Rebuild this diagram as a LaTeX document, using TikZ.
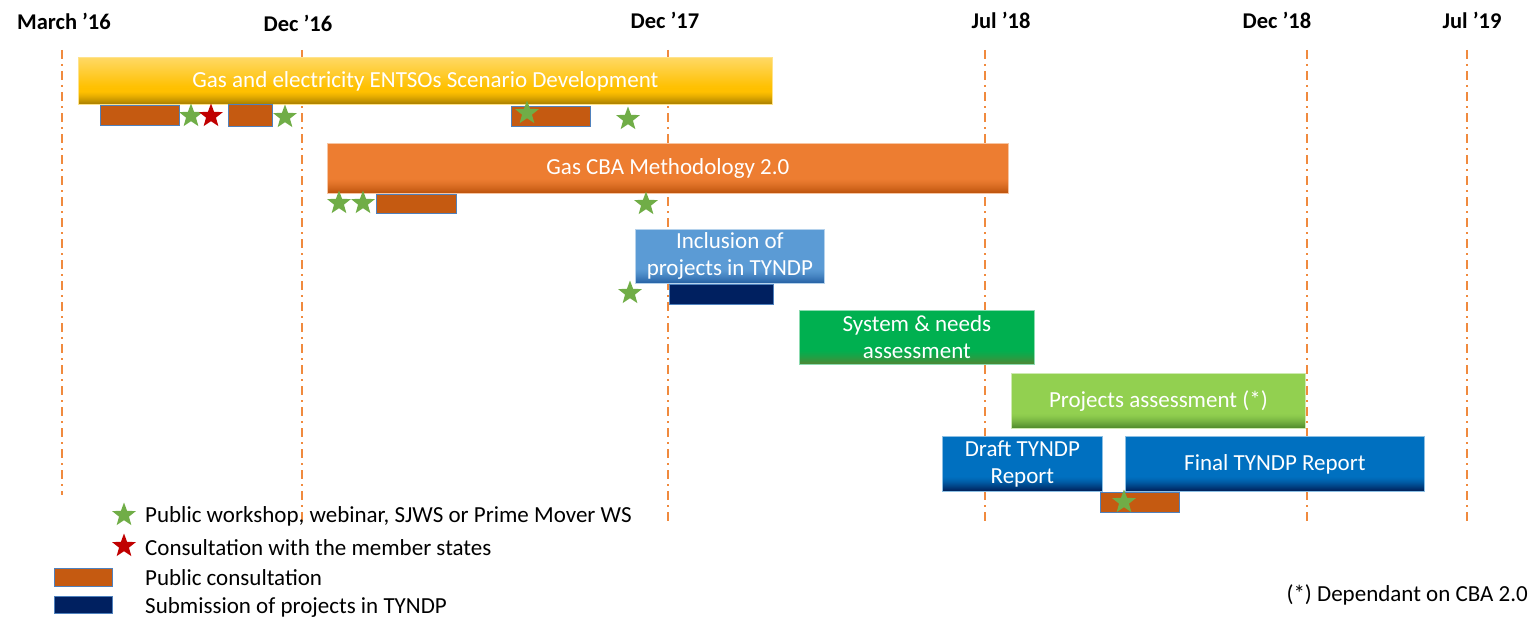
\documentclass[tikz,border=0pt]{standalone}
\usepackage{fontspec}
\setmainfont{Carlito}
\usetikzlibrary{shapes.geometric,calc}
\definecolor{dashorange}{HTML}{F08A3E}
\definecolor{ybar}{HTML}{FFC000}\definecolor{ybarL}{HTML}{FFD966}\definecolor{ybarD}{HTML}{B08400}
\definecolor{obar}{HTML}{ED7D31}\definecolor{obarD}{HTML}{C0560F}
\definecolor{lbbar}{HTML}{5B9BD5}\definecolor{lbbarD}{HTML}{2A66A8}
\definecolor{gbar}{HTML}{00B050}\definecolor{gbarD}{HTML}{4A8A36}
\definecolor{lgbar}{HTML}{92D050}\definecolor{lgbarD}{HTML}{54902E}
\definecolor{bbar}{HTML}{0070C0}\definecolor{bbarD}{HTML}{002660}
\definecolor{cons}{HTML}{C55A11}\definecolor{consedge}{HTML}{4F81BD}
\definecolor{navy}{HTML}{002060}
\definecolor{gstar}{HTML}{70AD47}\definecolor{rstar}{HTML}{C00000}
\tikzset{
  vline/.style={dashorange, line width=2pt, dash pattern=on 9pt off 5pt on 2pt off 5pt},
  hdr/.style={font=\fontsize{22.5}{26}\selectfont\bfseries, text=black, inner sep=0pt},
  bar/.style 2 args={anchor=north west, inner sep=0pt, text=white, align=center,
     font=\fontsize{23}{27}\selectfont, fill=#1, draw=#1!45!white, line width=0.8pt,
     path picture={
       \foreach \k in {0,...,13}{
         \pgfmathsetmacro\p{100*(1-\k/14)^1.4}
         \pgfmathsetmacro\kk{\k+1.6}
         \fill[#2!\p!#1] ([yshift=\k pt]path picture bounding box.south west) rectangle ([yshift=\kk pt]path picture bounding box.south east);}
     }},
  ybarbox/.style={anchor=north west, inner sep=0pt, fill=ybar, draw=ybar!45!white, line width=0.8pt,
     path picture={
       \foreach \k in {0,...,29}{
         \pgfmathsetmacro\p{100*(1-\k/30)}
         \pgfmathsetmacro\kk{\k+1.6}
         \fill[ybarL!\p!ybar] ([yshift=-\k pt]path picture bounding box.north west) rectangle ([yshift=-\kk pt]path picture bounding box.north east);}
       \foreach \k in {0,...,11}{
         \pgfmathsetmacro\p{100*(1-\k/12)^1.3}
         \pgfmathsetmacro\kk{\k+1.6}
         \fill[ybarD!\p!ybar] ([yshift=\k pt]path picture bounding box.south west) rectangle ([yshift=\kk pt]path picture bounding box.south east);}
     }},
  consbox/.style={anchor=north west, fill=cons, draw=consedge, line width=1pt, inner sep=0pt},
  subbox/.style={anchor=north west, fill=navy, draw=consedge, line width=1pt, inner sep=0pt},
  gst/.style={star, star points=5, star point ratio=2.4, fill=gstar, minimum size=25pt, inner sep=0pt},
  rst/.style={star, star points=5, star point ratio=2.4, fill=rstar, minimum size=25pt, inner sep=0pt},
  leg/.style={anchor=west, font=\fontsize{23}{27}\selectfont, inner sep=0pt, text=black}
}
\begin{document}
\begin{tikzpicture}[x=1pt,y=-1pt]
\useasboundingbox (0,0) rectangle (1537,618);
% headers
\node[hdr] (h1) at (64,21) {March ’16};
\node[hdr] (h2) at (298,23) {Dec ’16};
\node[hdr] (h3) at (665,20) {Dec ’17};
\node[hdr] (h4) at (1001,20) {Jul ’18};
\node[hdr] (h5) at (1277,20) {Dec ’18};
\node[hdr] (h6) at (1472,20) {Jul ’19};
% vertical lines
\coordinate (v1t) at (62,50); \coordinate (v1b) at (62,495);
\coordinate (v2t) at (302,50); \coordinate (v2b) at (302,525);
\coordinate (v3t) at (668,50); \coordinate (v3b) at (668,525);
\coordinate (v4t) at (985,50); \coordinate (v4b) at (985,525);
\coordinate (v5t) at (1307,50); \coordinate (v5b) at (1307,525);
\coordinate (v6t) at (1467,50); \coordinate (v6b) at (1467,525);
\foreach \i in {1,...,6} {\draw[vline] (v\i t) -- (v\i b);}
% bar 1
\node[ybarbox, minimum width=694pt, minimum height=47pt] (b1) at (78,57) {};
\node[text=white, font=\fontsize{23}{27}\selectfont, inner sep=0pt] (b1t) at (b1.center) {Gas and electricity ENTSOs Scenario Development};
\node[consbox, minimum width=79pt, minimum height=20pt] (c1) at (100,105) {};
\node[consbox, minimum width=44pt, minimum height=22pt] (c2) at (228,104) {};
\node[consbox, minimum width=79pt, minimum height=20pt] (c3) at (511,106) {};
\node[gst] (s1) at (191,116) {};
\node[rst] (s2) at (211,116) {};
\node[gst] (s3) at (285,117) {};
\node[gst] (s4) at (527,113) {};
\node[gst] (s5) at (628,119) {};
% bar 2
\node[bar={obar}{obarD}, minimum width=681pt, minimum height=50pt] (b2) at (327,143) {Gas CBA Methodology 2.0};
\node[gst] (s6) at (339,203) {};
\node[gst] (s7) at (363,203) {};
\node[consbox, minimum width=80pt, minimum height=19pt] (c4) at (376,194) {};
\node[gst] (s8) at (646,204) {};
% bar 3
\node[bar={lbbar}{lbbarD}, minimum width=189pt, minimum height=54pt] (b3) at (635,229) {Inclusion of\\projects in TYNDP};
\node[subbox, minimum width=104pt, minimum height=20pt] (n1) at (669,284) {};
\node[gst] (s9) at (630,293) {};
% bar 4
\node[bar={gbar}{gbarD}, minimum width=235pt, minimum height=54pt] (b4) at (799,310) {System \& needs\\assessment};
% bar 5
\node[bar={lgbar}{lgbarD}, minimum width=294pt, minimum height=55pt] (b5) at (1011,373) {Projects assessment (*)};
% bar 6
\node[bar={bbar}{bbarD}, minimum width=160pt, minimum height=55pt] (b6) at (942,436) {Draft TYNDP\\Report};
\node[bar={bbar}{bbarD}, minimum width=299pt, minimum height=55pt] (b7) at (1125,436) {Final TYNDP Report};
\node[consbox, minimum width=79pt, minimum height=20pt] (c5) at (1100,492) {};
\node[gst] (s10) at (1124,502) {};
% legend
\node[gst] (ls1) at (124,515) {};
\node[leg] (lt1) at (145,516) {Public workshop, webinar, SJWS or Prime Mover WS};
\node[rst] (ls2) at (124,546) {};
\node[leg] (lt2) at (145,548) {Consultation with the member states};
\node[consbox, minimum width=58pt, minimum height=18pt] (lc) at (54,568) {};
\node[leg] (lt3) at (145,578) {Public consultation};
\node[subbox, minimum width=58pt, minimum height=17pt] (ln) at (54,596) {};
\node[leg] (lt4) at (145,607) {Submission of projects in TYNDP};
\node[leg, anchor=east] (note) at (1528,595) {(*) Dependant on CBA 2.0};
\end{tikzpicture}
\end{document}
